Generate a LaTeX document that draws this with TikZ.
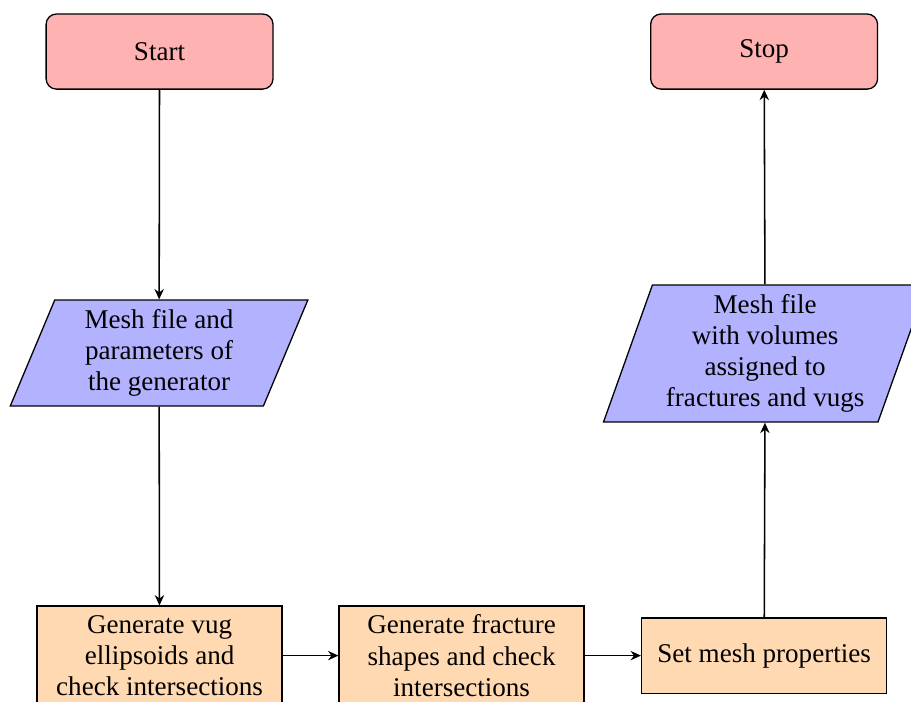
\documentclass[tikz,border=0pt]{standalone}
\usepackage{fontspec}
\setmainfont{Liberation Serif}
\newfontfamily\tnrfont{Liberation Serif}
\usetikzlibrary{shapes.geometric,arrows.meta}
\begin{document}
\begin{tikzpicture}[x=1pt,y=1pt,
  every node/.style={font=\tnrfont\fontsize{10.45}{12}\selectfont},
  term/.style={draw, rectangle, rounded corners=4pt, fill=red!30, minimum width=87.6pt, minimum height=29pt, align=center, line width=0.5pt},
  io/.style={draw, trapezium, trapezium left angle=70, trapezium right angle=110, trapezium stretches=true, fill=blue!30, align=center, inner sep=0pt, line width=0.5pt},
  proc/.style={draw, rectangle, fill=orange!30, minimum width=94.6pt, align=center, line width=0.5pt},
  conn/.style={draw, -{Stealth[length=4pt,width=3.6pt]}, line width=0.6pt}
]
\useasboundingbox (0,0) rectangle (351.7,-271.0);
\clip (0,0) rectangle (351.7,-271.0);
\node[term] (start) at (61.6,-19.9) {Start};
\node[term] (stop) at (295.0,-19.9) {Stop};
\node[io, minimum width=115pt, minimum height=40.9pt] (p1) at (61.4,-136.3) {Mesh file and\\parameters of\\the generator};
\node[io, minimum width=125pt, minimum height=52.9pt] (p2) at (295.4,-136.5) {Mesh file\\with volumes\\assigned to\\fractures and vugs};
\node[proc, minimum height=38.2pt] (b1) at (61.6,-253.1) {Generate vug\\ellipsoids and\\check intersections};
\node[proc, minimum height=38.2pt] (b2) at (178.2,-253.1) {Generate fracture\\shapes and check\\intersections};
\node[proc, minimum height=29pt] (b3) at (295.0,-253.1) {Set mesh properties};
\draw[conn] (start) -- (p1);
\draw[conn] (p1) -- (b1);
\draw[conn] (b1) -- (b2);
\draw[conn] (b2) -- (b3);
\draw[conn] (b3) -- (p2);
\draw[conn] (p2) -- (stop);
\end{tikzpicture}
\end{document}
